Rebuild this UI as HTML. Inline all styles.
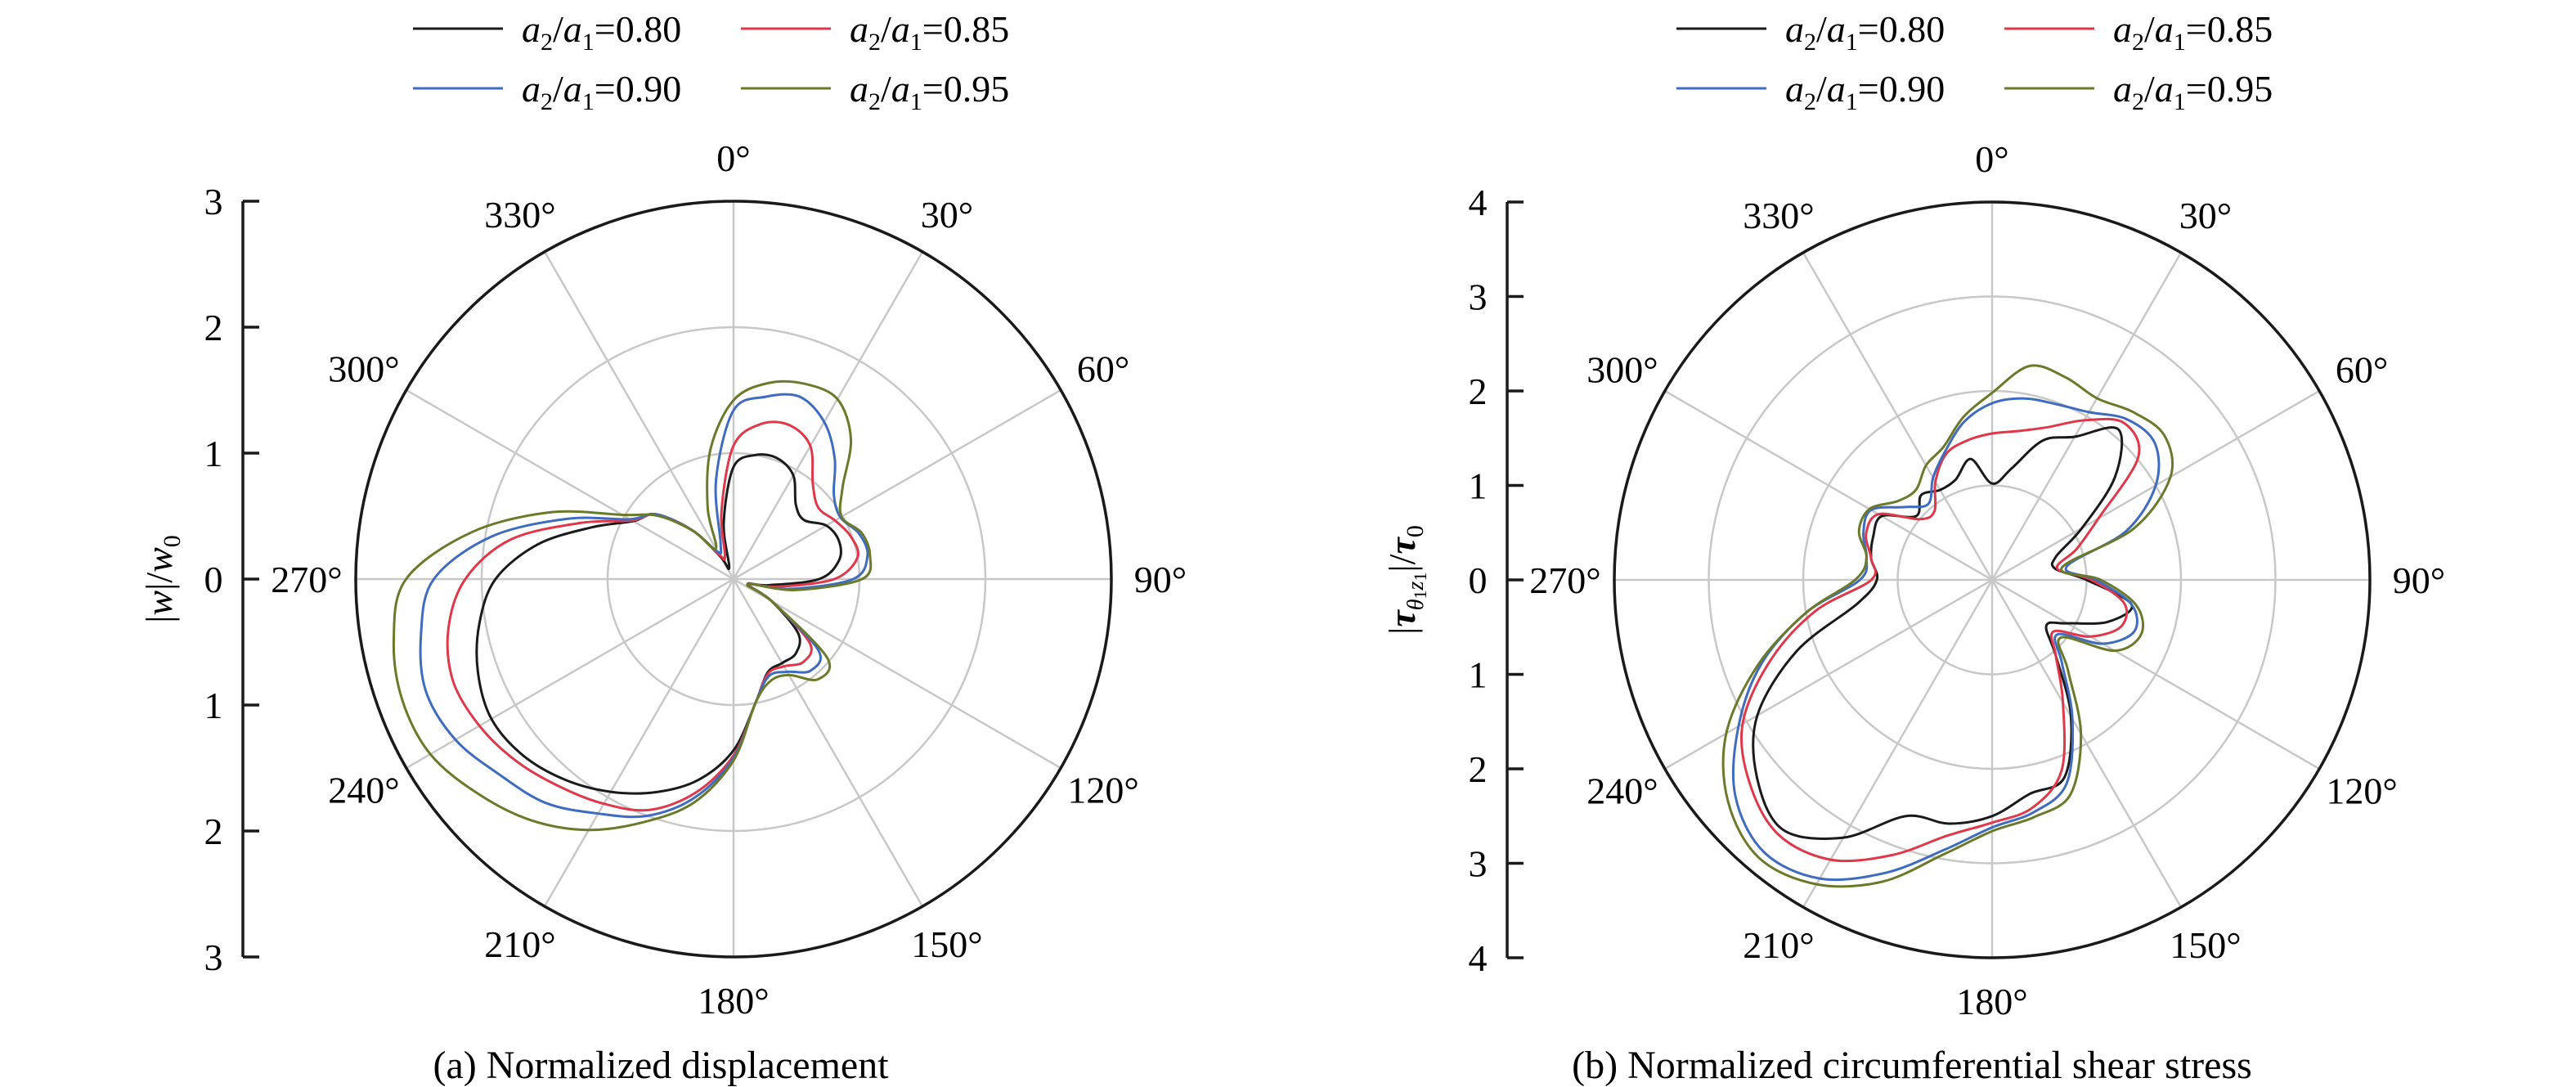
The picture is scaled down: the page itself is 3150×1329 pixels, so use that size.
<!DOCTYPE html>
<html><head><meta charset="utf-8">
<style>
html,body{margin:0;padding:0;background:#fff;}
svg{display:block;font-family:"Liberation Serif","Times New Roman",serif;}
</style></head>
<body>
<svg id="fig" width="3150" height="1329" viewBox="0 0 3150 1329" xmlns="http://www.w3.org/2000/svg">
<g id="chartA"></g>
<g id="chartB"></g>
<text x="808" y="1318" font-size="48" text-anchor="middle">(a) Normalized displacement</text>
<text x="2338" y="1318" font-size="48" text-anchor="middle">(b) Normalized circumferential shear stress</text>
</svg>
<script>
// angles in degrees, clockwise from top
const angles = [0,10,20,30,40,50,60,70,80,90,100,110,120,130,140,150,160,170,180,190,200,210,220,230,240,250,260,270,280,290,300,310,320,330,340,350];
const seriesLabels = ["0.80","0.85","0.90","0.95"];
const seriesColors = ["#1a1a1a","#e0384b","#3f6cbf","#6b7a2a"];
// (a) normalized displacement |w|/w0
const dispA080 = [0.89,1.0,1.02,0.95,0.77,0.73,0.85,0.89,0.85,0.68,0.28,0.12,0.35,0.67,0.77,0.77,0.79,1.0,1.36,1.62,1.8,1.95,2.08,2.18,2.22,2.16,2.05,1.89,1.58,1.2,0.92,0.8,0.5,0.2,0.1,0.45];
const dispA085 = [1.06,1.25,1.3,1.22,0.98,0.88,0.93,0.99,1.0,0.8,0.35,0.12,0.35,0.79,0.86,0.8,0.8,1.0,1.4,1.72,1.95,2.06,2.15,2.25,2.33,2.37,2.3,2.13,1.8,1.3,0.93,0.8,0.5,0.22,0.2,0.55];
const dispA090 = [1.34,1.47,1.54,1.44,1.25,1.04,0.98,1.06,1.08,0.95,0.45,0.12,0.35,0.88,0.95,0.85,0.82,1.0,1.42,1.76,2.0,2.15,2.32,2.42,2.55,2.6,2.52,2.38,1.95,1.4,0.95,0.8,0.5,0.25,0.3,0.8];
const dispA095 = [1.42,1.58,1.65,1.65,1.45,1.13,0.99,1.08,1.1,1.02,0.5,0.12,0.35,0.97,1.04,0.88,0.86,1.0,1.44,1.8,2.05,2.3,2.5,2.65,2.78,2.8,2.74,2.6,2.12,1.55,1.02,0.78,0.5,0.28,0.6,1.05];
// (b) normalized shear stress
const shearB080 = [1.02,1.2,1.57,1.75,2.08,1.7,1.1,0.72,0.68,1.0,1.5,1.3,0.92,0.75,1.05,1.67,2.23,2.3,2.5,2.62,2.66,3.15,3.45,3.25,2.87,2.2,1.45,1.22,1.3,1.34,1.35,1.05,1.17,1.1,1.13,1.3];
const shearB085 = [1.55,1.6,1.72,1.95,2.17,2.02,1.3,0.95,0.7,1.05,1.42,1.45,1.2,0.85,1.05,1.5,2.15,2.45,2.57,2.75,3.1,3.42,3.52,3.35,3.05,2.5,1.9,1.28,1.3,1.42,1.39,1.0,0.95,1.2,1.42,1.5];
const shearB090 = [1.87,1.95,1.98,2.05,2.22,2.25,2.0,1.51,0.8,1.1,1.5,1.6,1.35,0.9,1.15,1.7,2.3,2.5,2.62,2.9,3.3,3.65,3.76,3.55,3.1,2.6,2.0,1.4,1.35,1.45,1.48,1.2,1.05,1.25,1.45,1.7];
const shearB095 = [1.98,2.3,2.28,2.22,2.32,2.38,2.18,1.6,0.75,1.15,1.55,1.68,1.5,0.95,1.25,1.88,2.42,2.55,2.66,2.95,3.4,3.72,3.84,3.65,3.25,2.64,2.0,1.45,1.35,1.5,1.5,1.3,1.25,1.4,1.5,1.75];
const spokeAngles = [0,30,60,90,120,150,180,210,240,270,300,330];
const spokeLabels = ["0°","30°","60°","90°","120°","150°","180°","210°","240°","270°","300°","330°"];
const ticksA = ["3","2","1","0","1","2","3"];
const ticksB = ["4","3","2","1","0","1","2","3","4"];

const NS="http://www.w3.org/2000/svg";
function mk(tag, attrs, parent){const e=document.createElementNS(NS,tag);for(const k in attrs)e.setAttribute(k,attrs[k]);parent.appendChild(e);return e;}

function drawChart(g, cx, cy, R, rmax, series, ticks, axisX, legendX, titleHTML, titleX){
  const unit = R/rmax;
  const px = (a,r)=>cx + r*unit*Math.sin(a*Math.PI/180);
  const py = (a,r)=>cy - r*unit*Math.cos(a*Math.PI/180);
  // grid rings
  for(let k=1;k<rmax;k++){
    const c=mk('circle',{cx:cx,cy:cy,r:k*unit,fill:'none',stroke:'#c8c8c8','stroke-width':2.5},g);
    
    
  }
  spokeAngles.forEach((a,i)=>{
    const l=mk('line',{x1:cx,y1:cy,x2:px(a,rmax),y2:py(a,rmax),stroke:'#c8c8c8','stroke-width':2.5},g);
    
    
    const t=mk('text',{x:cx+522*Math.sin(a*Math.PI/180),y:cy-515*Math.cos(a*Math.PI/180)+16,'font-size':46,'text-anchor':'middle'},g);
    t.textContent=spokeLabels[i];
    
    
  });
  // series
  series.forEach((vals,si)=>{
    const pts=vals.map((r,i)=>[px(angles[i],r),py(angles[i],r)]);
    const n=pts.length;let d='M'+pts[0][0].toFixed(1)+','+pts[0][1].toFixed(1);
    for(let i=0;i<n;i++){
      const p0=pts[(i-1+n)%n],p1=pts[i],p2=pts[(i+1)%n],p3=pts[(i+2)%n];
      const c1=[p1[0]+(p2[0]-p0[0])/6,p1[1]+(p2[1]-p0[1])/6];
      const c2=[p2[0]-(p3[0]-p1[0])/6,p2[1]-(p3[1]-p1[1])/6];
      d+=' C'+c1[0].toFixed(1)+','+c1[1].toFixed(1)+' '+c2[0].toFixed(1)+','+c2[1].toFixed(1)+' '+p2[0].toFixed(1)+','+p2[1].toFixed(1);
    }
    const p=mk('path',{d:d+'Z',fill:'none',stroke:seriesColors[si],'stroke-width':3},g);
    
    
  });
  const oc=mk('circle',{cx:cx,cy:cy,r:R,fill:'none',stroke:'#1a1a1a','stroke-width':3.5},g);
  
  
  // radial axis
  const ax=mk('line',{x1:axisX,y1:cy-R,x2:axisX,y2:cy+R,stroke:'#1a1a1a','stroke-width':3.5},g);
  
  
  ticks.forEach((lab,i)=>{
    const y=cy-R+i*unit;
    const tk=mk('line',{x1:axisX,y1:y,x2:axisX+20,y2:y,stroke:'#1a1a1a','stroke-width':3.5},g);
    
    
    const t=mk('text',{x:axisX-36,y:y+16,'font-size':46,'text-anchor':'middle'},g);
    t.textContent=lab;
    
    
  });
  const tt=mk('text',{transform:'translate('+titleX+','+cy+') rotate(-90)','font-size':46,'text-anchor':'middle',y:14},g);
  tt.innerHTML=titleHTML;
  
  
  // legend
  const pos=[[0,35],[401,35],[0,108],[401,108]];
  seriesLabels.forEach((lab,si)=>{
    const lx=legendX+pos[si][0],ly=pos[si][1];
    const l=mk('line',{x1:lx,y1:ly,x2:lx+110,y2:ly,stroke:seriesColors[si],'stroke-width':3},g);
    
    
    const t=mk('text',{x:lx+133,y:ly+16,'font-size':46},g);
    t.innerHTML='<tspan font-style="italic">a</tspan><tspan font-size="30" dy="10">2</tspan><tspan dy="-10">/</tspan><tspan font-style="italic">a</tspan><tspan font-size="30" dy="10">1</tspan><tspan dy="-10">='+lab+'</tspan>';
    
    
  });
}
drawChart(document.getElementById('chartA'),897,708,462,3,[dispA080,dispA085,dispA090,dispA095],ticksA,297,505,
 '|<tspan font-style="italic">w</tspan>|/<tspan font-style="italic">w</tspan><tspan font-size="30" dy="10">0</tspan>',196);
drawChart(document.getElementById('chartB'),2436,709,462,4,[shearB080,shearB085,shearB090,shearB095],ticksB,1843,2050,
 '|<tspan font-style="italic" font-weight="bold">τ</tspan><tspan font-size="28" dy="10" font-style="italic">θ</tspan><tspan font-size="22" dy="4">1</tspan><tspan font-size="28" dy="-4" font-style="italic">z</tspan><tspan font-size="22" dy="4">1</tspan><tspan dy="-14">|/</tspan><tspan font-style="italic" font-weight="bold">τ</tspan><tspan font-size="30" dy="10">0</tspan>',1716);
</script>
</body></html>
